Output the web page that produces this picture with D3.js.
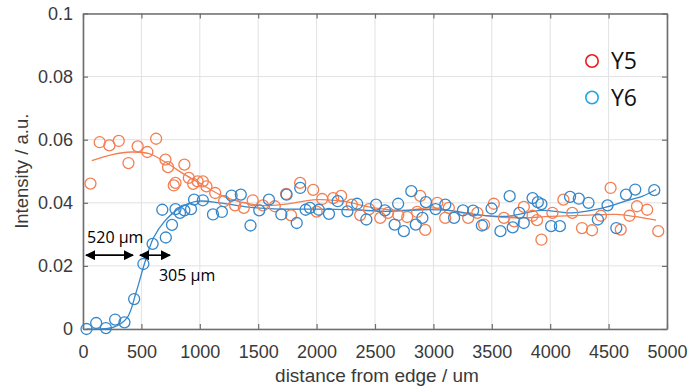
<!DOCTYPE html>
<html>
<head>
<meta charset="utf-8">
<script src="https://cdn.jsdelivr.net/npm/d3@7"></script>
<style>
  body { margin: 0; background: #fff; }
  svg { display: block; }
</style>
</head>
<body>
<svg id="chart" width="690" height="387"></svg>
<script>
// Y5 measured points (distance in um, intensity a.u.)
const y5X = [64, 143, 226, 306, 389, 468, 551, 626, 706, 728, 777, 792, 868, 906, 943, 981, 1026, 1057, 1132, 1208, 1302, 1377, 1453, 1540, 1642, 1739, 1781, 1859, 1971, 2000, 2048, 2142, 2210, 2302, 2373, 2450, 2545, 2611, 2699, 2776, 2861, 2887, 2930, 3033, 3101, 3132, 3298, 3376, 3434, 3517, 3604, 3691, 3774, 3849, 3887, 3925, 4019, 4113, 4189, 4272, 4358, 4434, 4517, 4604, 4679, 4743, 4830, 4925];
const y5Y = [0.0461, 0.0592, 0.0582, 0.0596, 0.0526, 0.0579, 0.0561, 0.0603, 0.0537, 0.0513, 0.0455, 0.0463, 0.0521, 0.0479, 0.046, 0.0468, 0.0468, 0.0452, 0.0431, 0.0405, 0.0392, 0.0384, 0.0408, 0.0392, 0.0389, 0.0428, 0.036, 0.0463, 0.0441, 0.0372, 0.0412, 0.0415, 0.0422, 0.0394, 0.0361, 0.038, 0.0352, 0.0368, 0.0361, 0.0355, 0.0371, 0.0422, 0.0314, 0.04, 0.0352, 0.0384, 0.0352, 0.0368, 0.0331, 0.0397, 0.0352, 0.0341, 0.0387, 0.0359, 0.0345, 0.0283, 0.0368, 0.041, 0.0368, 0.032, 0.0313, 0.0359, 0.0447, 0.0315, 0.0359, 0.0389, 0.0378, 0.031];

// Y6 measured points
const y6X = [30, 113, 196, 275, 355, 438, 517, 596, 679, 709, 762, 792, 830, 868, 925, 951, 1026, 1113, 1189, 1272, 1351, 1434, 1509, 1592, 1698, 1743, 1830, 1860, 1906, 1943, 2019, 2106, 2181, 2264, 2347, 2426, 2509, 2585, 2668, 2698, 2747, 2811, 2849, 2906, 2936, 3019, 3102, 3177, 3253, 3340, 3415, 3498, 3574, 3653, 3679, 3736, 3774, 3849, 3894, 3925, 4008, 4083, 4170, 4245, 4328, 4408, 4491, 4566, 4649, 4728, 4891];
const y6Y = [0, 0.0019, 0.0003, 0.003, 0.0021, 0.0095, 0.0206, 0.027, 0.0378, 0.029, 0.033, 0.038, 0.0368, 0.0376, 0.038, 0.041, 0.0408, 0.0363, 0.0371, 0.0423, 0.0426, 0.0328, 0.0376, 0.041, 0.0363, 0.0426, 0.0336, 0.0447, 0.0378, 0.0384, 0.0378, 0.0365, 0.0405, 0.0373, 0.0397, 0.0347, 0.0394, 0.0376, 0.0331, 0.0397, 0.031, 0.0437, 0.0331, 0.0352, 0.0402, 0.038, 0.0394, 0.0352, 0.0376, 0.0375, 0.0328, 0.0382, 0.031, 0.0421, 0.0322, 0.0368, 0.0336, 0.0415, 0.0402, 0.0396, 0.0326, 0.0326, 0.0419, 0.0413, 0.04, 0.0347, 0.0392, 0.032, 0.0426, 0.0442, 0.044];

// fitted curves
const fit5X = [75, 250, 415, 566, 717, 868, 1019, 1170, 1321, 1547, 1736, 2000, 2226, 2491, 2755, 2981, 3245, 3509, 3736, 4000, 4264, 4566, 4717, 4906];
const fit5Y = [0.0534, 0.0553, 0.0561, 0.0556, 0.0526, 0.049, 0.0458, 0.0426, 0.0405, 0.0391, 0.0396, 0.041, 0.0405, 0.0384, 0.0376, 0.0384, 0.0368, 0.0357, 0.0352, 0.0357, 0.036, 0.0363, 0.0357, 0.0345];
const fit6X = [30, 264, 377, 453, 528, 604, 698, 830, 981, 1170, 1396, 1698, 2000, 2302, 2604, 2906, 3132, 3358, 3623, 3925, 4189, 4453, 4642, 4792, 4906];
const fit6Y = [0, 0.0006, 0.0035, 0.0114, 0.0209, 0.0289, 0.0341, 0.0384, 0.0405, 0.04, 0.0387, 0.038, 0.038, 0.0378, 0.0373, 0.0378, 0.0376, 0.0363, 0.0357, 0.0376, 0.0368, 0.0384, 0.0405, 0.0421, 0.0442];

const xTicks = [0, 500, 1000, 1500, 2000, 2500, 3000, 3500, 4000, 4500, 5000];
const yTicks = [0, 0.02, 0.04, 0.06, 0.08, 0.1];
const legendNames = ["Y5", "Y6"];

const margin = { top: 13.5, right: 23, bottom: 58, left: 83 };
const width = 690 - margin.left - margin.right;
const height = 387 - margin.top - margin.bottom;

const ORANGE = "#f47e52";
const BLUE = "#3587cb";

const svg = d3.select("#chart");
const g = svg.append("g").attr("transform", "translate(" + margin.left + "," + margin.top + ")");

const x = d3.scaleLinear().domain([0, 5000]).range([0, width]);
const y = d3.scaleLinear().domain([0, 0.1]).range([height, 0]);

// grid
g.append("g").selectAll("line").data(xTicks).enter().append("line")
  .attr("x1", d => x(d)).attr("x2", d => x(d))
  .attr("y1", 0).attr("y2", height)
  .attr("stroke", "#e2e2e2").attr("stroke-width", 1);
g.append("g").selectAll("line").data(yTicks).enter().append("line")
  .attr("y1", d => y(d)).attr("y2", d => y(d))
  .attr("x1", 0).attr("x2", width)
  .attr("stroke", "#e2e2e2").attr("stroke-width", 1);

// axes, ticks pointing inward
const fmtY = d => d === 0 ? "0" : String(+d.toFixed(2));
const axBottom = g.append("g").attr("transform", "translate(0," + height + ")")
  .call(d3.axisBottom(x).tickValues(xTicks).tickSizeInner(-5).tickSizeOuter(0).tickPadding(16).tickFormat(d3.format("d")));
const axLeft = g.append("g")
  .call(d3.axisLeft(y).tickValues(yTicks).tickSizeInner(-5).tickSizeOuter(0).tickPadding(10).tickFormat(fmtY));
const axTop = g.append("g")
  .call(d3.axisTop(x).tickValues(xTicks).tickSizeInner(-5).tickSizeOuter(0).tickFormat(""));
const axRight = g.append("g").attr("transform", "translate(" + width + ",0)")
  .call(d3.axisRight(y).tickValues(yTicks).tickSizeInner(-5).tickSizeOuter(0).tickFormat(""));

[axBottom, axLeft, axTop, axRight].forEach(a => {
  a.select(".domain").attr("stroke", "#6e6e6e").attr("stroke-width", 1.6);
  a.selectAll(".tick line").attr("stroke", "#6e6e6e").attr("stroke-width", 1.2);
  a.selectAll(".tick text")
    .attr("fill", "#3a3a3a")
    .style("font-family", "'Liberation Sans', Arial, sans-serif")
    .style("font-size", "18px");
});

// fitted lines
const line = d3.line().x(d => x(d[0])).y(d => y(d[1])).curve(d3.curveCatmullRom);
g.append("path").datum(d3.zip(fit5X, fit5Y))
  .attr("d", line).attr("fill", "none").attr("stroke", ORANGE).attr("stroke-width", 1.3);
g.append("path").datum(d3.zip(fit6X, fit6Y))
  .attr("d", line).attr("fill", "none").attr("stroke", BLUE).attr("stroke-width", 1.3);

// markers
g.append("g").selectAll("circle").data(d3.zip(y5X, y5Y)).enter().append("circle")
  .attr("cx", d => x(d[0])).attr("cy", d => y(d[1])).attr("r", 5.5)
  .attr("fill", "none").attr("stroke", ORANGE).attr("stroke-width", 1.3);
g.append("g").selectAll("circle").data(d3.zip(y6X, y6Y)).enter().append("circle")
  .attr("cx", d => x(d[0])).attr("cy", d => y(d[1])).attr("r", 5.5)
  .attr("fill", "none").attr("stroke", BLUE).attr("stroke-width", 1.3);

// annotation arrows
svg.append("defs").append("marker")
  .attr("id", "head").attr("viewBox", "0 0 10 10")
  .attr("refX", 9).attr("refY", 5)
  .attr("markerWidth", 10).attr("markerHeight", 10)
  .attr("markerUnits", "userSpaceOnUse")
  .attr("orient", "auto-start-reverse")
  .append("path").attr("d", "M0,0 L10,5 L0,10 Z").attr("fill", "#000");

const arrows = [[26, 428], [488, 745]];
const arrowY = 0.0234;
g.append("g").selectAll("line").data(arrows).enter().append("line")
  .attr("x1", d => x(d[0])).attr("x2", d => x(d[1]))
  .attr("y1", y(arrowY)).attr("y2", y(arrowY))
  .attr("stroke", "#000").attr("stroke-width", 1.6)
  .attr("marker-start", "url(#head)").attr("marker-end", "url(#head)");

const annFont = "'Open Sans', 'DejaVu Sans', sans-serif";
g.append("text").attr("x", x(35)).attr("y", y(0.0272))
  .style("font-family", annFont).style("font-size", "16px").attr("fill", "#000")
  .text("520 µm");
g.append("text").attr("x", x(650)).attr("y", y(0.0152))
  .style("font-family", annFont).style("font-size", "16px").attr("fill", "#000")
  .text("305 µm");

// legend
const legendColors = ["#ee1c1c", "#1ea6e6"];
const lg = svg.append("g").selectAll("g").data(legendNames).enter().append("g")
  .attr("transform", (d, i) => "translate(592," + (61 + i * 36.5) + ")");
lg.append("circle").attr("r", 6.2).attr("fill", "none")
  .attr("stroke", (d, i) => legendColors[i]).attr("stroke-width", 1.6);
lg.append("text").attr("x", 19).attr("y", 8.3)
  .style("font-family", annFont).style("font-size", "23px").attr("fill", "#111")
  .text(d => d);

// axis titles
svg.append("text")
  .attr("transform", "translate(28," + (margin.top + height / 2) + ") rotate(-90)")
  .attr("text-anchor", "middle")
  .style("font-family", "'Liberation Sans', Arial, sans-serif").style("font-size", "18.5px")
  .attr("fill", "#3a3a3a")
  .text("Intensity / a.u.");
svg.append("text")
  .attr("x", margin.left + width / 2 + 2).attr("y", 382)
  .attr("text-anchor", "middle")
  .style("font-family", "'Liberation Sans', Arial, sans-serif").style("font-size", "19px")
  .attr("fill", "#3a3a3a")
  .text("distance from edge / um");
</script>
</body>
</html>
